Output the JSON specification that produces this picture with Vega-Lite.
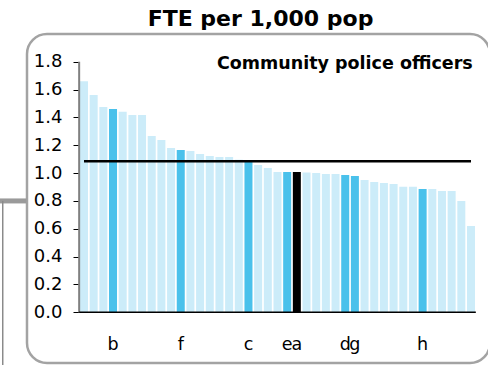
{
  "$schema": "https://vega.github.io/schema/vega-lite/v6.json",
  "autosize": "none",
  "padding": {"left": 27, "top": 34, "right": 0, "bottom": 2},
  "width": 463,
  "height": 329,
  "background": "white",
  "config": {
    "font": "DejaVu Sans",
    "view": {"stroke": "#a3a3a3", "strokeWidth": 2.5, "cornerRadius": 20},
    "scale": {"continuousPadding": 0}
  },
  "title": {
    "text": "FTE per 1,000 pop",
    "font": "DejaVu Sans",
    "fontSize": 22,
    "fontWeight": "bold",
    "color": "#000000",
    "anchor": "middle",
    "frame": "group",
    "offset": 3,
    "dx": 2
  },
  "resolve": {"axis": {"x": "independent", "y": "independent"}},
  "datasets": {
    "bars": [
      {"id": 1, "v": 1.66, "g": "other", "label": ""},
      {"id": 2, "v": 1.56, "g": "other", "label": ""},
      {"id": 3, "v": 1.475, "g": "other", "label": ""},
      {"id": 4, "v": 1.46, "g": "highlight", "label": "b"},
      {"id": 5, "v": 1.44, "g": "other", "label": ""},
      {"id": 6, "v": 1.417, "g": "other", "label": ""},
      {"id": 7, "v": 1.417, "g": "other", "label": ""},
      {"id": 8, "v": 1.267, "g": "other", "label": ""},
      {"id": 9, "v": 1.238, "g": "other", "label": ""},
      {"id": 10, "v": 1.18, "g": "other", "label": ""},
      {"id": 11, "v": 1.166, "g": "highlight", "label": "f"},
      {"id": 12, "v": 1.159, "g": "other", "label": ""},
      {"id": 13, "v": 1.137, "g": "other", "label": ""},
      {"id": 14, "v": 1.123, "g": "other", "label": ""},
      {"id": 15, "v": 1.116, "g": "other", "label": ""},
      {"id": 16, "v": 1.116, "g": "other", "label": ""},
      {"id": 17, "v": 1.095, "g": "other", "label": ""},
      {"id": 18, "v": 1.088, "g": "highlight", "label": "c"},
      {"id": 19, "v": 1.058, "g": "other", "label": ""},
      {"id": 20, "v": 1.037, "g": "other", "label": ""},
      {"id": 21, "v": 1.008, "g": "other", "label": ""},
      {"id": 22, "v": 1.008, "g": "highlight", "label": "e"},
      {"id": 23, "v": 1.008, "g": "selected", "label": "a"},
      {"id": 24, "v": 1.005, "g": "other", "label": ""},
      {"id": 25, "v": 1.001, "g": "other", "label": ""},
      {"id": 26, "v": 0.994, "g": "other", "label": ""},
      {"id": 27, "v": 0.994, "g": "other", "label": ""},
      {"id": 28, "v": 0.987, "g": "highlight", "label": "d"},
      {"id": 29, "v": 0.979, "g": "highlight", "label": "g"},
      {"id": 30, "v": 0.95, "g": "other", "label": ""},
      {"id": 31, "v": 0.936, "g": "other", "label": ""},
      {"id": 32, "v": 0.929, "g": "other", "label": ""},
      {"id": 33, "v": 0.922, "g": "other", "label": ""},
      {"id": 34, "v": 0.902, "g": "other", "label": ""},
      {"id": 35, "v": 0.902, "g": "other", "label": ""},
      {"id": 36, "v": 0.886, "g": "highlight", "label": "h"},
      {"id": 37, "v": 0.886, "g": "other", "label": ""},
      {"id": 38, "v": 0.871, "g": "other", "label": ""},
      {"id": 39, "v": 0.871, "g": "other", "label": ""},
      {"id": 40, "v": 0.80, "g": "other", "label": ""},
      {"id": 41, "v": 0.62, "g": "other", "label": ""}
    ],
    "avg": [{"from": 1, "to": 41, "avg": 1.085}],
    "one": [{"note": "Community police officers"}]
  },
  "layer": [
    {
      "data": {"name": "bars"},
      "mark": {"type": "bar", "orient": "vertical", "width": 8},
      "encoding": {
        "x": {"field": "id", "type": "quantitative", "scale": {"domain": [-4.891, 42.964], "zero": false, "nice": false, "padding": 0}, "axis": null},
        "y": {"field": "v", "type": "quantitative", "scale": {"domain": [-0.364, 1.999], "zero": false, "nice": false, "padding": 0},
          "axis": {"orient": "left", "offset": -52, "domain": false, "grid": false, "values": [0, 0.2, 0.4, 0.6, 0.8, 1.0, 1.2, 1.4, 1.6, 1.8], "format": ".1f", "labelOverlap": false, "tickColor": "#000000", "tickSize": 6, "tickWidth": 1, "labelPadding": 11, "labelFont": "DejaVu Sans", "labelFontSize": 18, "labelColor": "#000000", "title": null}},
        "color": {"field": "g", "type": "nominal", "scale": {"domain": ["other", "highlight", "selected"], "range": ["#ccecf9", "#4ac1eb", "#000000"]}, "legend": null}
      }
    },
    {
      "data": {"name": "bars"},
      "mark": {"type": "text", "baseline": "alphabetic", "align": "center", "dy": 38, "fontSize": 17.5, "font": "DejaVu Sans", "color": "#000000"},
      "encoding": {
        "x": {"field": "id", "type": "quantitative", "axis": null},
        "y": {"datum": 0, "type": "quantitative", "axis": null},
        "text": {"field": "label"}
      }
    },
    {
      "data": {"name": "avg"},
      "mark": {"type": "rule", "color": "#000000", "strokeWidth": 2.5},
      "encoding": {
        "x": {"field": "from", "type": "quantitative", "axis": null},
        "x2": {"field": "to"},
        "y": {"field": "avg", "type": "quantitative", "axis": null}
      }
    },
    {
      "data": {"name": "one"},
      "mark": {"type": "rule", "color": "#808080", "strokeWidth": 2},
      "encoding": {
        "x": {"datum": 0.5, "type": "quantitative", "axis": null},
        "y": {"datum": 0, "type": "quantitative", "axis": null},
        "y2": {"datum": 1.8}
      }
    },
    {
      "data": {"name": "one"},
      "mark": {"type": "rule", "color": "#000000", "strokeWidth": 1.5},
      "encoding": {
        "x": {"datum": 0.5, "type": "quantitative", "axis": null},
        "x2": {"datum": 41.5},
        "y": {"datum": 0, "type": "quantitative", "axis": null}
      }
    },
    {
      "data": {"name": "one"},
      "mark": {"type": "rule", "color": "#9a9a9a", "strokeWidth": 5},
      "encoding": {
        "x": {"datum": -7.7, "type": "quantitative", "axis": null},
        "x2": {"datum": -4.95},
        "y": {"datum": 0.8, "type": "quantitative", "axis": null}
      }
    },
    {
      "data": {"name": "one"},
      "mark": {"type": "rule", "color": "#8a8a8a", "strokeWidth": 1.5},
      "encoding": {
        "x": {"datum": -7.4, "type": "quantitative", "axis": null},
        "y": {"datum": 0.8, "type": "quantitative", "axis": null},
        "y2": {"datum": -0.4}
      }
    },
    {
      "data": {"name": "one"},
      "mark": {"type": "text", "align": "right", "baseline": "alphabetic", "font": "DejaVu Sans", "fontSize": 17.5, "fontWeight": "bold", "color": "#000000"},
      "encoding": {
        "x": {"datum": 41.18, "type": "quantitative", "axis": null},
        "y": {"datum": 1.748, "type": "quantitative", "axis": null},
        "text": {"field": "note"}
      }
    }
  ]
}
